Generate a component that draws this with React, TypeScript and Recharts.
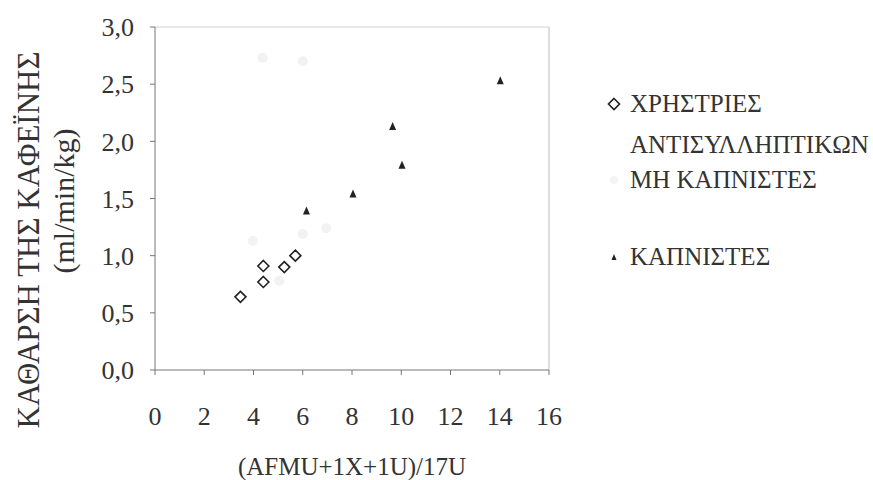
import React from 'react';
import { ScatterChart, Scatter, XAxis, YAxis, ReferenceLine, Legend, Label } from 'recharts';

// ΧΡΗΣΤΡΙΕΣ ΑΝΤΙΣΥΛΛΗΠΤΙΚΩΝ
const usersX = [3.47, 4.4, 4.4, 5.25, 5.7];
const usersY = [0.64, 0.77, 0.91, 0.9, 1.0];

// ΜΗ ΚΑΠΝΙΣΤΕΣ (very faint in the scan)
const nonSmokersX = [3.97, 5.05, 6.0, 6.95, 4.37, 6.0];
const nonSmokersY = [1.13, 0.78, 1.19, 1.24, 2.73, 2.7];

// ΚΑΠΝΙΣΤΕΣ
const smokersX = [6.15, 8.04, 9.65, 10.03, 14.02];
const smokersY = [1.39, 1.54, 2.13, 1.79, 2.53];

const xTicks = [0, 2, 4, 6, 8, 10, 12, 14, 16];
const yTicks = [0, 0.5, 1, 1.5, 2, 2.5, 3];

const toPoints = (xs: number[], ys: number[]) => xs.map((x, i) => ({ x, y: ys[i] }));

const users = toPoints(usersX, usersY);
const nonSmokers = toPoints(nonSmokersX, nonSmokersY);
const smokers = toPoints(smokersX, smokersY);

const FONT = 'Liberation Serif';
const TEXT = '#333';

const Diamond = (props: any) => {
  const { cx, cy } = props;
  const r = 5.5;
  return (
    <path
      d={`M${cx},${cy - r} L${cx + r},${cy} L${cx},${cy + r} L${cx - r},${cy} Z`}
      fill="#fff"
      stroke="#222"
      strokeWidth={1.6}
    />
  );
};

const Tri = (props: any) => {
  const { cx, cy } = props;
  return <path d={`M${cx},${cy - 4.5} L${cx + 3.5},${cy + 3.5} L${cx - 3.5},${cy + 3.5} Z`} fill="#222" />;
};

const Faint = (props: any) => {
  const { cx, cy } = props;
  return <circle cx={cx} cy={cy} r={5} fill="#f2f2f2" />;
};

const YTitle = () => (
  <g fontFamily={FONT} fill={TEXT}>
    <text x={28} y={240} transform="rotate(-90 28 240)" textAnchor="middle" dominantBaseline="central" fontSize={31}>
      ΚΑΘΑΡΣΗ ΤΗΣ ΚΑΦΕΪΝΗΣ
    </text>
    <text x={63} y={201} transform="rotate(-90 63 201)" textAnchor="middle" dominantBaseline="central" fontSize={30}>
      (ml/min/kg)
    </text>
  </g>
);

const renderLegend = () => {
  const row: React.CSSProperties = { position: 'absolute', left: 0, whiteSpace: 'nowrap' };
  return (
    <div style={{ position: 'relative', width: 273, height: 200, fontFamily: FONT, fontSize: 25, color: TEXT, lineHeight: 1 }}>
      <div style={{ ...row, top: 0 }}>
        <svg width={14} height={14} style={{ position: 'absolute', left: 4, top: 6 }}>
          <path d="M7,1.5 L12.5,7 L7,12.5 L1.5,7 Z" fill="#fff" stroke="#222" strokeWidth={1.6} />
        </svg>
        <span style={{ position: 'absolute', left: 27, top: 0 }}>ΧΡΗΣΤΡΙΕΣ</span>
      </div>
      <div style={{ ...row, top: 41, left: 27 }}>ΑΝΤΙΣΥΛΛΗΠΤΙΚΩΝ</div>
      <div style={{ ...row, top: 76 }}>
        <svg width={14} height={14} style={{ position: 'absolute', left: 4, top: 6 }}>
          <circle cx={7} cy={7} r={4} fill="#f4f4f4" />
        </svg>
        <span style={{ position: 'absolute', left: 27, top: 0 }}>ΜΗ ΚΑΠΝΙΣΤΕΣ</span>
      </div>
      <div style={{ ...row, top: 153 }}>
        <svg width={14} height={14} style={{ position: 'absolute', left: 4, top: 6 }}>
          <path d="M7,4 L9.5,10 L4.5,10 Z" fill="#222" />
        </svg>
        <span style={{ position: 'absolute', left: 27, top: 0 }}>ΚΑΠΝΙΣΤΕΣ</span>
      </div>
    </div>
  );
};

export default function App() {
  return (
    <div style={{ position: 'absolute', left: 0, top: 0, width: 873, height: 480, background: '#fff' }}>
      <ScatterChart width={873} height={480} margin={{ top: 27, right: 324, bottom: 80, left: 95 }}>
        <XAxis
          type="number"
          dataKey="x"
          domain={[0, 16]}
          ticks={xTicks}
          interval={0}
          height={30}
          stroke="#777"
          tickSize={5}
          tickMargin={32}
          tick={{ fill: TEXT, fontSize: 26, fontFamily: FONT }}
        >
          <Label value="(AFMU+1X+1U)/17U" position="bottom" offset={57} fill={TEXT} fontSize={25} fontFamily={FONT} />
        </XAxis>
        <YAxis
          type="number"
          dataKey="y"
          domain={[0, 3]}
          ticks={yTicks}
          interval={0}
          width={60}
          stroke="#777"
          tickSize={5}
          tickMargin={16}
          tickFormatter={(v: number) => v.toFixed(1).replace('.', ',')}
          tick={{ fill: TEXT, fontSize: 26, fontFamily: FONT }}
        >
          <Label content={YTitle} />
        </YAxis>
        <ReferenceLine y={3} stroke="#d2d2d2" />
        <ReferenceLine x={16} stroke="#bdbdbd" />
        <Scatter name="ΜΗ ΚΑΠΝΙΣΤΕΣ" data={nonSmokers} shape={Faint} isAnimationActive={false} />
        <Scatter name="ΧΡΗΣΤΡΙΕΣ ΑΝΤΙΣΥΛΛΗΠΤΙΚΩΝ" data={users} shape={Diamond} isAnimationActive={false} />
        <Scatter name="ΚΑΠΝΙΣΤΕΣ" data={smokers} shape={Tri} isAnimationActive={false} />
        <Legend
          layout="horizontal"
          verticalAlign="middle"
          content={renderLegend}
          wrapperStyle={{ position: 'absolute', left: 603, top: 91, width: 270, height: 200 }}
        />
      </ScatterChart>
    </div>
  );
}
